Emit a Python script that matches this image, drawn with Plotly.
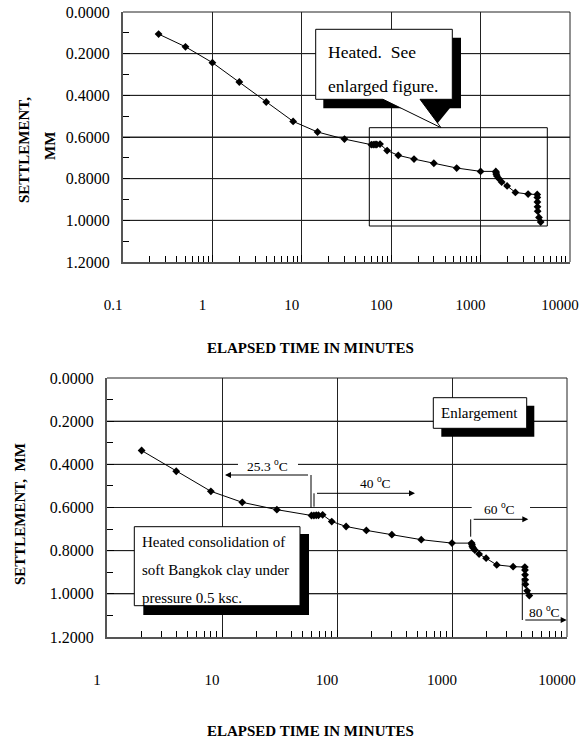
import math
import plotly.graph_objects as go

# ---------------- data ----------------
time_min = [0.25, 0.5, 1, 2, 4, 8, 15, 30, 60, 63, 66, 69, 75, 90, 120, 180, 300, 540,
            1000, 1480, 1490, 1500, 1520, 1580, 1720, 1980, 2450, 3400,
            4300, 4310, 4320, 4330, 4350, 4500, 4700]
settlement_mm = [0.106, 0.167, 0.243, 0.336, 0.432, 0.525, 0.576, 0.610, 0.637, 0.637, 0.636,
                 0.636, 0.634, 0.665, 0.688, 0.706, 0.726, 0.749,
                 0.765, 0.765, 0.772, 0.779, 0.787, 0.797, 0.816, 0.835, 0.866, 0.874,
                 0.876, 0.890, 0.912, 0.935, 0.956, 0.986, 1.008]

top_xticks = [0.1, 1, 10, 100, 1000, 10000]
bot_xticks = [1, 10, 100, 1000, 10000]
yticks = [0, 0.2, 0.4, 0.6, 0.8, 1.0, 1.2]

bot_time = [t for t in time_min if t >= 2]
bot_settle = [s for t, s in zip(time_min, settlement_mm) if t >= 2]

# ---------------- layout helpers ----------------
W, H = 579, 742
FONT = "Liberation Serif"

TOP = (123, 12, 570, 262)
BOT = (107, 378, 567, 637)


def px(x):
    return x / W


def py(y):
    return 1 - y / H


GRID = "#222"
AXL = "#555"

fig = go.Figure()

# horizontal grid lines as traces built from the tick lists
for xa, ya, xt in [("x", "y", top_xticks), ("x2", "y2", bot_xticks)]:
    gx, gy = [], []
    for v in yticks[1:-1]:
        gx += [xt[0], xt[-1], None]
        gy += [v, v, None]
    fig.add_trace(go.Scatter(x=gx, y=gy, mode="lines", line=dict(color=GRID, width=1),
                             hoverinfo="skip", xaxis=xa, yaxis=ya, showlegend=False))

for xa, ya, xs, ys in [("x", "y", time_min, settlement_mm), ("x2", "y2", bot_time, bot_settle)]:
    fig.add_trace(go.Scatter(x=xs, y=ys, mode="lines+markers",
                             line=dict(color="black", width=1),
                             marker=dict(symbol="diamond", size=6, color="black"),
                             xaxis=xa, yaxis=ya, showlegend=False))

xcommon = dict(type="log", dtick=1, tickformat="~g", automargin=False,
               showgrid=True, gridcolor=GRID, gridwidth=1,
               showline=True, linecolor=AXL, linewidth=2,
               ticks="inside", ticklen=7, tickcolor="black",
               minor=dict(ticks="inside", ticklen=6, tickcolor="black", dtick="D1", showgrid=False),
               tickfont=dict(family=FONT, size=15, color="black"),
               ticklabelstandoff=28, ticklabelshift=-10, ticklabeloverflow="allow", zeroline=False)
ycommon = dict(range=[yticks[-1], yticks[0]], tick0=yticks[0], dtick=yticks[1] - yticks[0],
               tickformat=".4f", automargin=False,
               showgrid=True, gridcolor=GRID, gridwidth=1,
               showline=True, linecolor=AXL, linewidth=2,
               ticks="inside", ticklen=7, tickcolor="black",
               minor=dict(ticks="inside", ticklen=6, tickcolor="black", dtick=0.1, showgrid=False),
               tickfont=dict(family=FONT, size=16, color="black"),
               ticklabelstandoff=8, ticklabeloverflow="allow", zeroline=False)

top_xrange = [math.log10(top_xticks[0]), math.log10(top_xticks[-1])]
bot_xrange = [math.log10(bot_xticks[0]), math.log10(bot_xticks[-1])]

fig.update_layout(
    width=W, height=H, margin=dict(l=0, r=0, t=0, b=0, autoexpand=False),
    paper_bgcolor="white", plot_bgcolor="white",
    xaxis=dict(xcommon, range=top_xrange, domain=[px(TOP[0]), px(TOP[2])], anchor="y"),
    yaxis=dict(ycommon, domain=[py(TOP[3]), py(TOP[1])], anchor="x"),
    xaxis2=dict(xcommon, range=bot_xrange, domain=[px(BOT[0]), px(BOT[2])], anchor="y2"),
    yaxis2=dict(ycommon, domain=[py(BOT[3]), py(BOT[1])], anchor="x2"),
)

shapes = []


def seg(x0, y0, x1, y1, color="black", w=1):
    shapes.append(dict(type="line", xref="paper", yref="paper",
                       x0=px(x0), x1=px(x1), y0=py(y0), y1=py(y1),
                       line=dict(color=color, width=w), layer="above"))


def outline(x0, y0, x1, y1, color="black", w=1):
    seg(x0, y0, x1, y0, color, w)
    seg(x1, y0, x1, y1, color, w)
    seg(x1, y1, x0, y1, color, w)
    seg(x0, y1, x0, y0, color, w)


def poly(points, fill, lw=1, color="black"):
    path = "M " + " L ".join(f"{px(a):.5f},{py(b):.5f}" for a, b in points) + " Z"
    shapes.append(dict(type="path", xref="paper", yref="paper", path=path,
                       fillcolor=fill, line=dict(color=color, width=lw), layer="above"))


def box(x0, y0, x1, y1, fill, lw=1):
    poly([(x0, y0), (x1, y0), (x1, y1), (x0, y1)], fill=fill, lw=lw)


# plot borders (thin top/right)
for (l, t, r, b) in (TOP, BOT):
    seg(l, t, r, t, GRID)
    seg(r, t, r, b, GRID)

# enlarged region in the top chart
outline(369.3, 127.7, 547.3, 226)

# callout with shadow
box(323.3, 37.7, 461, 108.3, fill="black", lw=0)
poly([(414, 108), (450, 108), (437, 124)], fill="black", lw=0)
poly([(315.7, 29.3), (452.3, 29.3), (452.3, 99.3), (420, 99.3), (441, 127.7),
      (383, 99.3), (315.7, 99.3)], fill="white", lw=1)

# Enlargement label box
box(441.3, 405.7, 534.3, 436.7, fill="black", lw=0)
box(433.3, 397.7, 526.7, 428.3, fill="white", lw=1)

# description box
box(143.3, 534, 309, 615, fill="black", lw=0)
box(134.3, 526.7, 300, 605.7, fill="white", lw=1)

# white gaps behind temperature labels
box(238, 459, 298, 470, fill="white", lw=0)
box(471.7, 502, 530, 513, fill="white", lw=0)

# temperature bracket verticals
seg(311, 475, 311, 508)
seg(314, 506.7, 314, 493.3)
seg(470.7, 536.7, 470.7, 519.3)
seg(522.3, 578, 522.3, 620)

fig.update_layout(shapes=shapes)

ann = []


def text(x, y, s, size, xanchor="center", angle=0):
    ann.append(dict(xref="paper", yref="paper", x=px(x), y=py(y), text=s, textangle=angle,
                    showarrow=False, xanchor=xanchor, yanchor="middle",
                    font=dict(family=FONT, size=size, color="black")))


def arrow(hx, hy, tx, ty):
    ann.append(dict(xref="paper", yref="paper", x=px(hx), y=py(hy), text=" ",
                    showarrow=True, axref="pixel", ayref="pixel",
                    ax=tx - hx, ay=ty - hy, arrowhead=2, arrowsize=1.2,
                    arrowwidth=1, arrowcolor="black", standoff=0))


# axis titles
text(24, 150, "<b>SETTLEMENT,</b>", 15, angle=-90)
text(50, 146, "<b>MM</b>", 15, angle=-90)
text(20, 514, "<b>SETTLEMENT,\u00a0 MM</b>", 15, angle=-90)
text(311, 348, "<b>ELAPSED TIME IN MINUTES</b>", 15)
text(311, 731, "<b>ELAPSED TIME IN MINUTES</b>", 15)

# callout texts
text(325.7, 52, "Heated.\u00a0 See", 17.5, xanchor="left")
text(325.7, 86, "enlarged figure.", 17.5, xanchor="left")
text(480, 413, "Enlargement", 15)
text(140, 542, "Heated consolidation of", 15, xanchor="left")
text(140, 570, "soft Bangkok clay under", 15, xanchor="left")
text(140, 598, "pressure 0.5 ksc.", 15, xanchor="left")

# temperature labels
text(267, 465, "25.3 <sup>o</sup>C", 13.5)
text(375, 482, "40 <sup>o</sup>C", 13.5)
text(499, 508, "60 <sup>o</sup>C", 13.5)
text(544, 611, "80 <sup>o</sup>C", 13.5)

# arrows
arrow(225, 475, 311, 475)
arrow(415, 493.3, 314, 493.3)
arrow(528.3, 519.3, 470.7, 519.3)
arrow(566.7, 620, 522.3, 620)

fig.update_layout(annotations=ann)

fig.write_html("out.html")
